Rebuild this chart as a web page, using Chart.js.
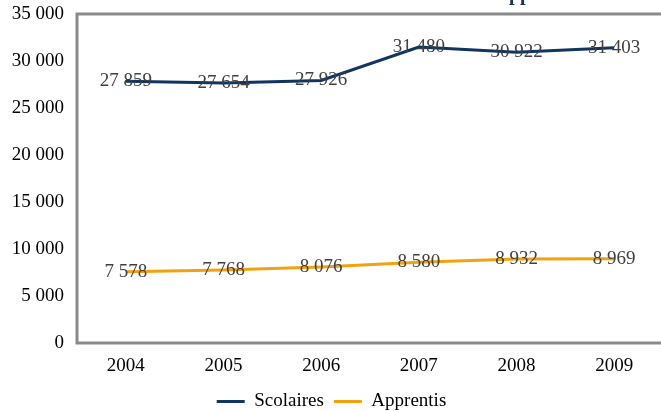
<!DOCTYPE html>
<html>
<head>
<meta charset="utf-8">
<script src="https://cdn.jsdelivr.net/npm/chart.js@4.4.1/dist/chart.umd.min.js"></script>
<style>
  html, body { margin: 0; padding: 0; background: #ffffff; overflow: hidden; }
  #c { position: fixed; top: 0; left: 0; display: block; }
</style>
</head>
<body>
<canvas id="c" width="664" height="411"></canvas>
<script>
const categories = ['2004', '2005', '2006', '2007', '2008', '2009'];
const scolaires = [27859, 27654, 27926, 31480, 30922, 31403];
const apprentis = [7578, 7768, 8076, 8580, 8932, 8969];
const seriesNames = ['Scolaires', 'Apprentis'];
const yTicks = [0, 5000, 10000, 15000, 20000, 25000, 30000, 35000];
const titleText = 'Effectifs scolaires et apprentis';

const NAVY = '#103561';
const ORANGE = '#F2A20D';
const FRAME = '#8a8a8a';
const SERIF = "'Liberation Serif', 'DejaVu Serif', serif";
const FS = 19;

function fmt(v) {
  return String(v).replace(/\B(?=(\d{3})+(?!\d))/g, ' ');
}

const framePlugin = {
  id: 'frame',
  afterDatasetsDraw(chart) {
    const { ctx, chartArea: a } = chart;
    ctx.save();
    ctx.strokeStyle = FRAME;
    ctx.lineWidth = 3;
    ctx.strokeRect(a.left, a.top, a.right - a.left, a.bottom - a.top);
    ctx.restore();
  }
};

const labelPlugin = {
  id: 'pointLabels',
  afterDatasetsDraw(chart) {
    const { ctx } = chart;
    ctx.save();
    ctx.font = FS + 'px ' + SERIF;
    ctx.fillStyle = '#404040';
    ctx.textAlign = 'center';
    ctx.textBaseline = 'middle';
    chart.data.datasets.forEach((ds, i) => {
      const meta = chart.getDatasetMeta(i);
      meta.data.forEach((pt, j) => {
        ctx.fillText(fmt(ds.data[j]), pt.x, pt.y);
      });
    });
    ctx.restore();
  }
};

const titlePlugin = {
  id: 'cutTitle',
  afterDraw(chart) {
    const { ctx } = chart;
    ctx.save();
    ctx.font = 'bold 20px ' + SERIF;
    ctx.fillStyle = NAVY;
    ctx.textAlign = 'left';
    ctx.textBaseline = 'alphabetic';
    const idx = titleText.indexOf('pp');
    const pre = ctx.measureText(titleText.slice(0, idx)).width;
    ctx.fillText(titleText, 509 - pre, 0);
    ctx.restore();
  }
};

new Chart(document.getElementById('c'), {
  type: 'line',
  data: {
    labels: categories,
    datasets: [
      { label: seriesNames[0], data: scolaires, borderColor: NAVY, backgroundColor: NAVY, borderWidth: 3, pointRadius: 0, tension: 0 },
      { label: seriesNames[1], data: apprentis, borderColor: ORANGE, backgroundColor: ORANGE, borderWidth: 3, pointRadius: 0, tension: 0 }
    ]
  },
  options: {
    responsive: false,
    animation: false,
    layout: { padding: { top: 14, right: 1, left: 0, bottom: -10 } },
    plugins: {
      legend: {
        position: 'bottom',
        labels: {
          usePointStyle: true,
          pointStyle: 'line',
          pointStyleWidth: 28,
          color: '#000000',
          font: { family: SERIF, size: FS },
          padding: 10
        }
      },
      title: { display: false },
      tooltip: { enabled: false }
    },
    scales: {
      x: {
        offset: true,
        grid: { display: false, drawTicks: false },
        border: { display: false },
        ticks: { color: '#000000', font: { family: SERIF, size: FS }, padding: 12, maxRotation: 0 },
        afterFit(s) { s.height = 39; s.paddingLeft = 0; s.paddingRight = 0; }
      },
      y: {
        min: 0, max: 35000,
        afterBuildTicks(s) { s.ticks = yTicks.map(v => ({ value: v })); },
        grid: { display: false, drawTicks: false },
        border: { display: false },
        ticks: { color: '#000000', font: { family: SERIF, size: FS }, padding: 13, callback: v => fmt(v) },
        afterFit(s) { s.width = 77; s.paddingTop = 0; s.paddingBottom = 0; }
      }
    }
  },
  plugins: [framePlugin, labelPlugin, titlePlugin]
});
</script>
</body>
</html>
